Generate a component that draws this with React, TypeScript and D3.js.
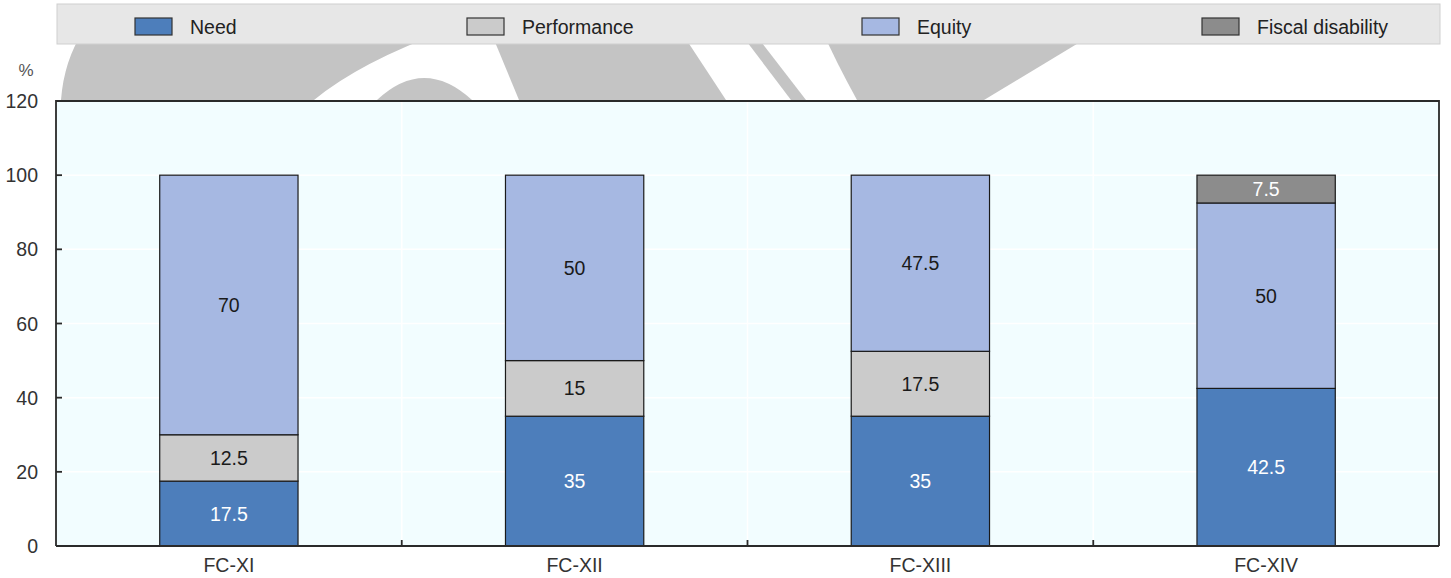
import * as d3 from 'd3';

// Grant composition across Finance Commissions (%)
const categories = ['FC-XI', 'FC-XII', 'FC-XIII', 'FC-XIV'];
const seriesNames = ['Need', 'Performance', 'Equity', 'Fiscal disability'];
const need = [17.5, 35, 35, 42.5];
const performance = [12.5, 15, 17.5, 0];
const equity = [70, 50, 47.5, 50];
const fiscalDisability = [0, 0, 0, 7.5];
const yTicks = [0, 20, 40, 60, 80, 100, 120];

const COLORS = ['#4d7ebb', '#cbcbcb', '#a6b8e2', '#8c8c8c'];
const LABEL_COLORS = ['#ffffff', '#1a1a1a', '#1a1a1a', '#ffffff'];
const LEGEND_X = [135, 467, 862, 1202];

const W = 1451;
const H = 578;
const plot = { left: 56, right: 1439, top: 101, bottom: 546 };
const FONT = '"Liberation Sans", Arial, sans-serif';
const WATERMARK = '#c4c4c4';

export default function App() {
  const rows = categories.map((c, i) => ({
    cat: c,
    Need: need[i],
    Performance: performance[i],
    Equity: equity[i],
    'Fiscal disability': fiscalDisability[i],
  }));
  const stacked = d3.stack<any>().keys(seriesNames)(rows);

  const x = d3
    .scaleBand()
    .domain(categories)
    .range([plot.left, plot.right])
    .paddingInner(0.6)
    .paddingOuter(0.3);
  const xBounds = d3.scaleBand().domain(categories).range([plot.left, plot.right]);
  const y = d3.scaleLinear().domain([0, 120]).range([plot.bottom, plot.top]);

  return (
    <svg
      width={W}
      height={H}
      style={{ position: 'absolute', left: 0, top: 0, background: '#fff' }}
      fontFamily={FONT}
    >
      {/* watermark behind the chart */}
      <g fill={WATERMARK}>
        <path d="M61,100 Q64,60 84,30 L448,30 Q360,62 314,100 Z" />
        <path d="M377,100 Q424,56 472,100 Z" />
        <path d="M490,30 L680,30 L726,100 L519,100 Z" />
        <path d="M738,30 L752,30 L806,100 L791,100 Z" />
        <path d="M822,30 L1100,30 L984,100 L857,100 Q835,60 822,30 Z" />
      </g>

      {/* legend */}
      <rect x={57} y={4} width={1383} height={40} fill="#e7e7e7" stroke="#cfcfcf" />
      {seriesNames.map((s, i) => (
        <g key={s} transform={`translate(${LEGEND_X[i]},0)`}>
          <rect x={0} y={18} width={37} height={17} fill={COLORS[i]} stroke="#333" strokeWidth={1.2} />
          <text x={55} y={34} fontSize={19.5} fill="#222">
            {s}
          </text>
        </g>
      ))}

      {/* plot area */}
      <rect
        x={plot.left}
        y={plot.top}
        width={plot.right - plot.left}
        height={plot.bottom - plot.top}
        fill="#f2fdff"
      />
      {yTicks.slice(1, -1).map((t) => (
        <line key={t} x1={plot.left} x2={plot.right} y1={y(t)} y2={y(t)} stroke="#ffffff" strokeWidth={1.5} />
      ))}
      {categories.slice(1).map((c) => (
        <line
          key={c}
          x1={xBounds(c)!}
          x2={xBounds(c)!}
          y1={plot.top}
          y2={plot.bottom}
          stroke="#ffffff"
          strokeWidth={1.5}
        />
      ))}

      {/* bars */}
      {stacked.map((layer, si) => (
        <g key={layer.key}>
          {layer.map((d, ci) => {
            const v = d[1] - d[0];
            if (v <= 0) return null;
            const bx = x(categories[ci])!;
            return (
              <g key={categories[ci]}>
                <rect
                  x={bx}
                  y={y(d[1])}
                  width={x.bandwidth()}
                  height={y(d[0]) - y(d[1])}
                  fill={COLORS[si]}
                  stroke="#1a1a1a"
                  strokeWidth={1.2}
                />
                <text
                  x={bx + x.bandwidth() / 2}
                  y={(y(d[0]) + y(d[1])) / 2}
                  dy="0.36em"
                  textAnchor="middle"
                  fontSize={19.5}
                  fill={LABEL_COLORS[si]}
                >
                  {d3.format('~f')(v)}
                </text>
              </g>
            );
          })}
        </g>
      ))}

      {/* frame */}
      <path
        d={`M${plot.left},${plot.bottom} V${plot.top} H${plot.right} V${plot.bottom}`}
        fill="none"
        stroke="#2a2a2a"
        strokeWidth={1.8}
      />
      <line x1={plot.left} x2={plot.right} y1={plot.bottom} y2={plot.bottom} stroke="#2a2a2a" strokeWidth={1.8} />

      {/* y axis */}
      {yTicks.map((t) => (
        <g key={t}>
          {t > 0 && t < 120 && (
            <line x1={plot.left} x2={plot.left + 6} y1={y(t)} y2={y(t)} stroke="#2a2a2a" strokeWidth={1.8} />
          )}
          <text x={38} y={y(t)} dy="0.36em" textAnchor="end" fontSize={19.5} fill="#333">
            {t}
          </text>
        </g>
      ))}
      <text x={26} y={70} dy="0.36em" textAnchor="middle" fontSize={17} fill="#555">
        %
      </text>

      {/* x axis */}
      {categories.slice(1).map((c) => (
        <line
          key={c}
          x1={xBounds(c)!}
          x2={xBounds(c)!}
          y1={plot.bottom}
          y2={plot.bottom - 6}
          stroke="#2a2a2a"
          strokeWidth={1.8}
        />
      ))}
      {categories.map((c) => (
        <text key={c} x={x(c)! + x.bandwidth() / 2} y={572} textAnchor="middle" fontSize={19.5} fill="#333">
          {c}
        </text>
      ))}
    </svg>
  );
}
